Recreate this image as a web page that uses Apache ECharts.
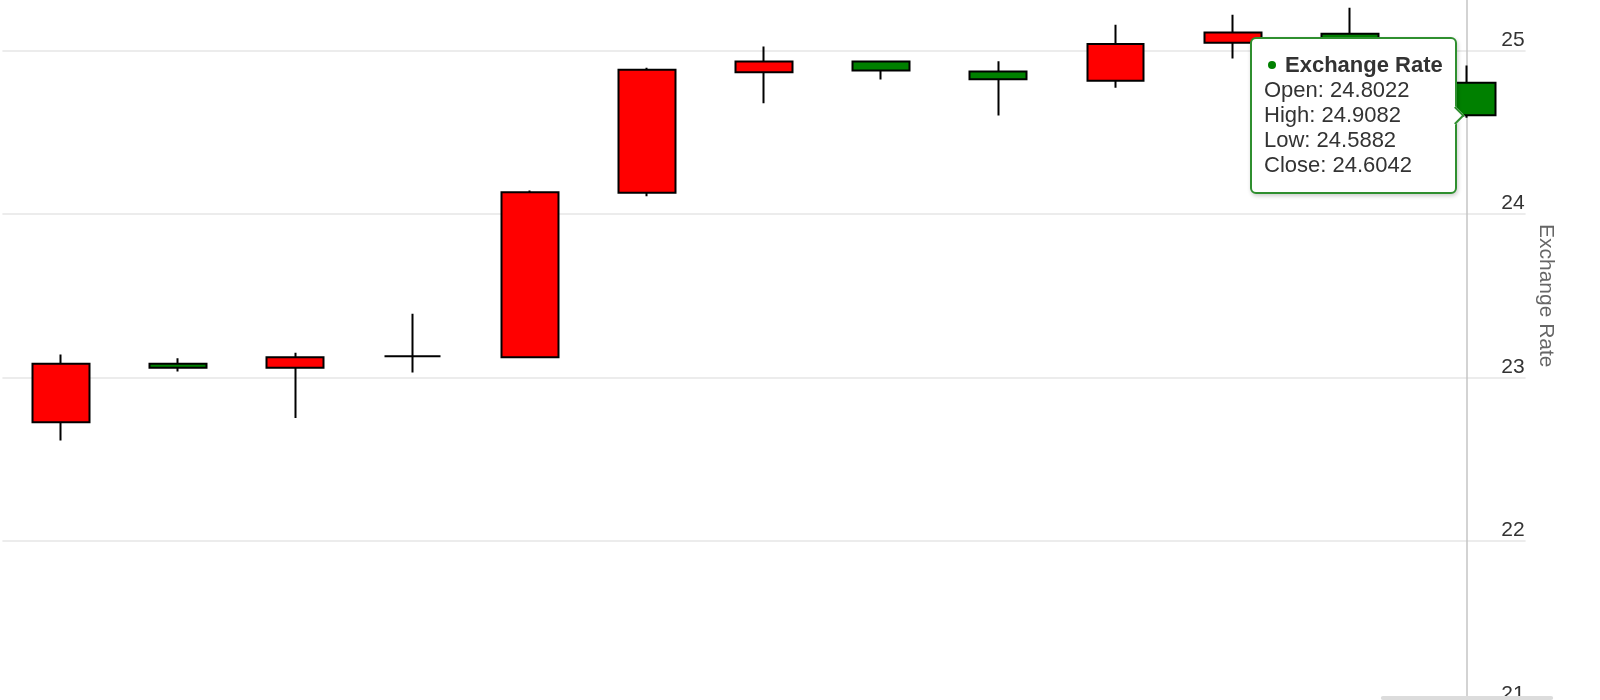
<!DOCTYPE html>
<html>
<head>
<meta charset="utf-8">
<script src="https://cdn.jsdelivr.net/npm/echarts@6/dist/echarts.min.js"></script>
<style>
html,body{margin:0;padding:0;background:#fff;}
#chart{width:1600px;height:700px;}
</style>
</head>
<body>
<div id="chart"></div>
<script>
// ---- data ----
const categories = ['2024-01-05','2024-01-12','2024-01-19','2024-01-26','2024-02-02','2024-02-09','2024-02-16','2024-02-23','2024-03-01','2024-03-08','2024-03-15','2024-03-22','2024-03-29'];
const openVals  = [22.727, 23.084, 23.060, 23.130, 23.124, 24.130, 24.867, 24.933, 24.872, 24.815, 25.047, 25.102, 24.8022];
const closeVals = [23.084, 23.060, 23.124, 23.130, 24.133, 24.882, 24.933, 24.878, 24.824, 25.039, 25.110, 25.000, 24.6042];
const lowVals   = [22.615, 23.037, 22.753, 23.030, 23.120, 24.109, 24.678, 24.823, 24.602, 24.772, 24.951, 24.950, 24.5882];
const highVals  = [23.141, 23.118, 23.151, 23.390, 24.144, 24.894, 25.024, 24.933, 24.935, 25.157, 25.218, 25.261, 24.9082];
const yTicks = [21, 22, 23, 24, 25, 26];
const seriesName = 'Exchange Rate';
const hoverIndex = 12;

const chart = echarts.init(document.getElementById('chart'));
const FONT = '"Liberation Sans", Arial, Helvetica, sans-serif';

function fmt(v){ return v.toFixed(4); }

const option = {
  animation: false,
  backgroundColor: '#ffffff',
  textStyle: { fontFamily: FONT },
  grid: { left: 2.4, right: 74.4, top: -113, bottom: -4.5, outerBoundsMode: 'none', containLabel: false },
  tooltip: {
    trigger: 'axis',
    alwaysShowContent: true,
    transitionDuration: 0,
    backgroundColor: '#ffffff',
    borderColor: '#2f8f2f',
    borderWidth: 2,
    borderRadius: 6,
    padding: [13, 12, 15, 12],
    textStyle: { fontFamily: FONT, fontSize: 22, color: '#333' },
    extraCssText: 'box-shadow: 1px 2px 4px rgba(0,0,0,0.2);',
    axisPointer: {
      type: 'line',
      z: 1,
      lineStyle: { color: '#c4c4c4', width: 1.5, type: 'solid' }
    },
    position: function (point, params, dom, rect, size) {
      const i = hoverIndex;
      const p = chart.convertToPixel({ gridIndex: 0 }, [i, closeVals[i]]);
      return [p[0] - size.contentSize[0] - 10, p[1] - size.contentSize[1] / 2];
    },
    formatter: function (params) {
      const i = params[0].dataIndex;
      const dot = '<span style="display:inline-block;width:8px;height:8px;border-radius:50%;background:#008000;margin:0 9px 2px 4px;vertical-align:middle;"></span>';
      const arrow = '<div style="position:absolute;box-sizing:border-box;width:13px;height:13px;right:-7.5px;top:50%;margin-top:-6.5px;background:#fff;border-top:2px solid #2f8f2f;border-right:2px solid #2f8f2f;transform:rotate(45deg);"></div>';
      return '<div style="font-family:' + FONT.replace(/"/g, "'") + ';font-size:22px;line-height:25px;color:#333;">' +
        '<div>' + dot + '<b>' + seriesName + '</b></div>' +
        '<div>Open: ' + fmt(openVals[i]) + '</div>' +
        '<div>High: ' + fmt(highVals[i]) + '</div>' +
        '<div>Low: ' + fmt(lowVals[i]) + '</div>' +
        '<div>Close: ' + fmt(closeVals[i]) + '</div>' +
        '</div>' + arrow;
    }
  },
  xAxis: {
    type: 'category',
    data: categories,
    boundaryGap: true,
    axisLine: { show: false },
    axisTick: { show: false },
    axisLabel: { show: false },
    splitLine: { show: false },
    axisPointer: {
      label: {
        show: true,
        formatter: function () { return ' '; },
        fontSize: 1,
        lineHeight: 1,
        padding: [1, 86, 2, 86],
        backgroundColor: '#dcdcdc',
        borderColor: '#dcdcdc',
        borderWidth: 0,
        shadowBlur: 0,
        margin: -8
      }
    }
  },
  yAxis: {
    type: 'value',
    position: 'right',
    min: yTicks[0],
    max: yTicks[yTicks.length - 1],
    interval: 1,
    axisLine: { show: false },
    axisTick: { show: false },
    axisLabel: {
      inside: true,
      margin: 1,
      verticalAlign: 'bottom',
      fontSize: 21,
      color: '#333',
      fontFamily: FONT
    },
    splitLine: { lineStyle: { color: '#e6e6e6', width: 1.5 } },
    axisPointer: { show: false },
    name: seriesName,
    nameLocation: 'middle',
    nameRotate: -90,
    nameGap: 10,
    nameTextStyle: { color: '#666', fontSize: 21, fontFamily: FONT }
  },
  series: [{
    type: 'candlestick',
    name: seriesName,
    barWidth: '49%',
    data: openVals.map((o, i) => [o, closeVals[i], lowVals[i], highVals[i]]),
    itemStyle: {
      color: '#ff0000',
      color0: '#008000',
      borderColor: '#000000',
      borderColor0: '#000000',
      borderColorDoji: '#000000',
      borderWidth: 2
    },
    emphasis: { disabled: true }
  }]
};

chart.setOption(option);

const pt = chart.convertToPixel({ gridIndex: 0 }, [hoverIndex, closeVals[hoverIndex]]);
chart.dispatchAction({ type: 'showTip', x: pt[0], y: pt[1] });
</script>
</body>
</html>
